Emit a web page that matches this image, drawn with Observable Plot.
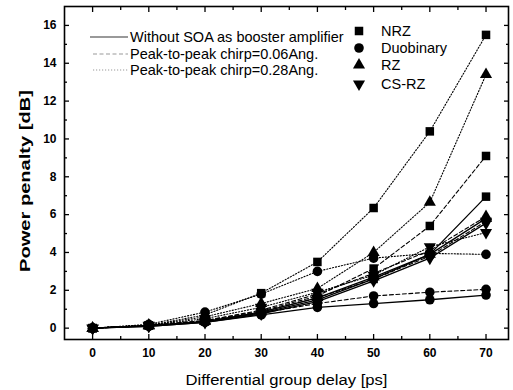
<!DOCTYPE html>
<html><head><meta charset="utf-8">
<script src="https://cdn.jsdelivr.net/npm/d3@7"></script>
<script src="https://cdn.jsdelivr.net/npm/@observablehq/plot@0.6"></script>
<style>
body{margin:0;background:#fff;font-family:"Liberation Sans",Arial,sans-serif;}
</style></head><body><div id="chart"></div>
<script>
const delays = [0, 10, 20, 30, 40, 50, 60, 70];
const formats = ["NRZ", "Duobinary", "RZ", "CS-RZ"];
const conditions = ["Without SOA as booster amplifier", "Peak-to-peak chirp=0.06Ang.", "Peak-to-peak chirp=0.28Ang."];

// values per format: [without SOA, chirp 0.06, chirp 0.28]
const nrzWithout   = [0, 0.15, 0.35, 0.80, 1.50, 2.60, 3.90, 6.95];
const nrzChirp006  = [0, 0.15, 0.40, 0.90, 1.70, 3.15, 5.40, 9.10];
const nrzChirp028  = [0, 0.15, 0.70, 1.85, 3.50, 6.35, 10.40, 15.50];
const duoWithout   = [0, 0.10, 0.30, 0.70, 1.10, 1.30, 1.50, 1.75];
const duoChirp006  = [0, 0.12, 0.35, 0.80, 1.30, 1.70, 1.90, 2.05];
const duoChirp028  = [0, 0.20, 0.85, 1.80, 3.00, 3.70, 3.95, 3.90];
const rzWithout    = [0, 0.12, 0.35, 0.85, 1.60, 2.70, 3.90, 5.80];
const rzChirp006   = [0, 0.15, 0.40, 0.95, 1.80, 2.90, 4.10, 5.90];
const rzChirp028   = [0, 0.15, 0.60, 1.30, 2.10, 4.00, 6.65, 13.40];
const csrzWithout  = [0, 0.10, 0.30, 0.75, 1.40, 2.50, 3.70, 5.55];
const csrzChirp006 = [0, 0.12, 0.35, 0.85, 1.60, 2.60, 3.80, 5.65];
const csrzChirp028 = [0, 0.15, 0.50, 1.10, 1.90, 2.80, 4.30, 5.05];

const xMajor = [0, 10, 20, 30, 40, 50, 60, 70];
const xMinor = [5, 15, 25, 35, 45, 55, 65];
const yMajor = [0, 2, 4, 6, 8, 10, 12, 14, 16];
const yMinor = [1, 3, 5, 7, 9, 11, 13, 15];
const xLabel = "Differential group delay [ps]";
const yLabel = "Power penalty [dB]";

const seriesTable = [
  ["NRZ", 0, nrzWithout], ["NRZ", 1, nrzChirp006], ["NRZ", 2, nrzChirp028],
  ["Duobinary", 0, duoWithout], ["Duobinary", 1, duoChirp006], ["Duobinary", 2, duoChirp028],
  ["RZ", 0, rzWithout], ["RZ", 1, rzChirp006], ["RZ", 2, rzChirp028],
  ["CS-RZ", 0, csrzWithout], ["CS-RZ", 1, csrzChirp006], ["CS-RZ", 2, csrzChirp028]
];
const rows = seriesTable.flatMap(([fmt, cond, vals]) =>
  vals.map((v, i) => ({format: fmt, cond, key: fmt + cond, x: delays[i], y: v})));

const symbolOf = {"NRZ": "square", "Duobinary": "circle", "RZ": "triangle", "CS-RZ": "triangle"};
const rotateOf = {"NRZ": 0, "Duobinary": 0, "RZ": 0, "CS-RZ": 180};
const rOf = {"NRZ": 4.8, "Duobinary": 4.8, "RZ": 4.5, "CS-RZ": 4.5};
const dashes = [null, "4,2.5", "1.2,1.8"];
const widths = [1.3, 1.1, 1.1];

const FONT = "Liberation Sans, Arial, sans-serif";
const noText = () => "";

const chart = Plot.plot({
  width: 513, height: 390,
  marginLeft: 64, marginRight: 5, marginTop: 6, marginBottom: 51,
  style: {fontFamily: FONT, fontSize: "12px", color: "#000", background: "#fff", overflow: "visible"},
  x: {domain: [-5, 74]},
  y: {domain: [-0.6, 17]},
  marks: [
    ...[0, 1, 2].map(c => Plot.line(rows.filter(d => d.cond === c), {
      x: "x", y: "y", z: "key", stroke: "#000", strokeWidth: widths[c],
      strokeDasharray: dashes[c]
    })),
    ...formats.map(f => Plot.dot(rows.filter(d => d.format === f), {
      x: "x", y: "y", symbol: () => symbolOf[f], r: rOf[f], rotate: rotateOf[f], fill: "#000", stroke: "none"
    })),
    Plot.frame({stroke: "#000", strokeWidth: 1.6}),
    Plot.axisX(xMajor, {anchor: "bottom", tickSize: 0, tickPadding: 9, fontWeight: "bold", fontSize: 12, label: null}),
    Plot.axisX(xMajor, {anchor: "bottom", tickSize: -5, tickFormat: noText, label: null, strokeWidth: 1.3}),
    Plot.axisX(xMinor, {anchor: "bottom", tickSize: -3, tickFormat: noText, label: null, strokeWidth: 1.3}),
    Plot.axisX(xMajor, {anchor: "top", tickSize: -5, tickFormat: noText, label: null, strokeWidth: 1.3}),
    Plot.axisX(xMinor, {anchor: "top", tickSize: -3, tickFormat: noText, label: null, strokeWidth: 1.3}),
    Plot.axisY(yMajor, {anchor: "left", tickSize: 0, tickPadding: 8, fontWeight: "bold", fontSize: 12, label: null}),
    Plot.axisY(yMajor, {anchor: "left", tickSize: -5, tickFormat: noText, label: null, strokeWidth: 1.3}),
    Plot.axisY(yMinor, {anchor: "left", tickSize: -3, tickFormat: noText, label: null, strokeWidth: 1.3}),
    Plot.axisY(yMajor, {anchor: "right", tickSize: -5, tickFormat: noText, label: null, strokeWidth: 1.3}),
    Plot.axisY(yMinor, {anchor: "right", tickSize: -3, tickFormat: noText, label: null, strokeWidth: 1.3}),
    Plot.text([xLabel], {frameAnchor: "bottom", dy: 41, lineAnchor: "middle", textAnchor: "middle", text: d => d, fontSize: 15.5, fill: "#000"}),
    Plot.text([yLabel], {frameAnchor: "left", dx: -39, dy: 8, rotate: -90, lineAnchor: "middle", textAnchor: "middle", text: d => d, fontSize: 14.5, fontWeight: "bold", fill: "#000"})
  ]
});
document.getElementById("chart").appendChild(chart);

const svg = d3.select(chart);
// stretch axis titles to the lengths seen in the reference
svg.selectAll("text").filter(function () { return this.textContent === xLabel; })
  .attr("textLength", 202).attr("lengthAdjust", "spacingAndGlyphs");
svg.selectAll("text").filter(function () { return this.textContent === yLabel; })
  .attr("textLength", 182).attr("lengthAdjust", "spacingAndGlyphs");

// Legend (drawn into the plot's SVG)
const lg = svg.append("g").attr("font-family", FONT).attr("font-size", 14.5).attr("fill", "#000").attr("text-anchor", "start");
const lineRows = [37, 54, 70];
conditions.forEach((label, i) => {
  lg.append("line").attr("x1", i === 0 ? 90 : 93).attr("x2", 128)
    .attr("y1", lineRows[i]).attr("y2", lineRows[i])
    .attr("stroke", "#999").attr("stroke-width", i === 0 ? 2 : 1)
    .attr("stroke-dasharray", dashes[i]);
  lg.append("text").attr("x", 130).attr("y", lineRows[i]).attr("dy", "0.35em").text(label);
});
const symRows = [31, 48, 65, 84];
const d3sym = {"square": d3.symbolSquare, "circle": d3.symbolCircle, "triangle": d3.symbolTriangle};
formats.forEach((f, i) => {
  const r = rOf[f];
  lg.append("path")
    .attr("d", d3.symbol(d3sym[symbolOf[f]], r * r * Math.PI)())
    .attr("transform", `translate(359,${symRows[i]}) rotate(${rotateOf[f]})`)
    .attr("fill", "#000");
  lg.append("text").attr("x", 381).attr("y", symRows[i]).attr("dy", "0.35em").text(f);
});
</script>
</body></html>
